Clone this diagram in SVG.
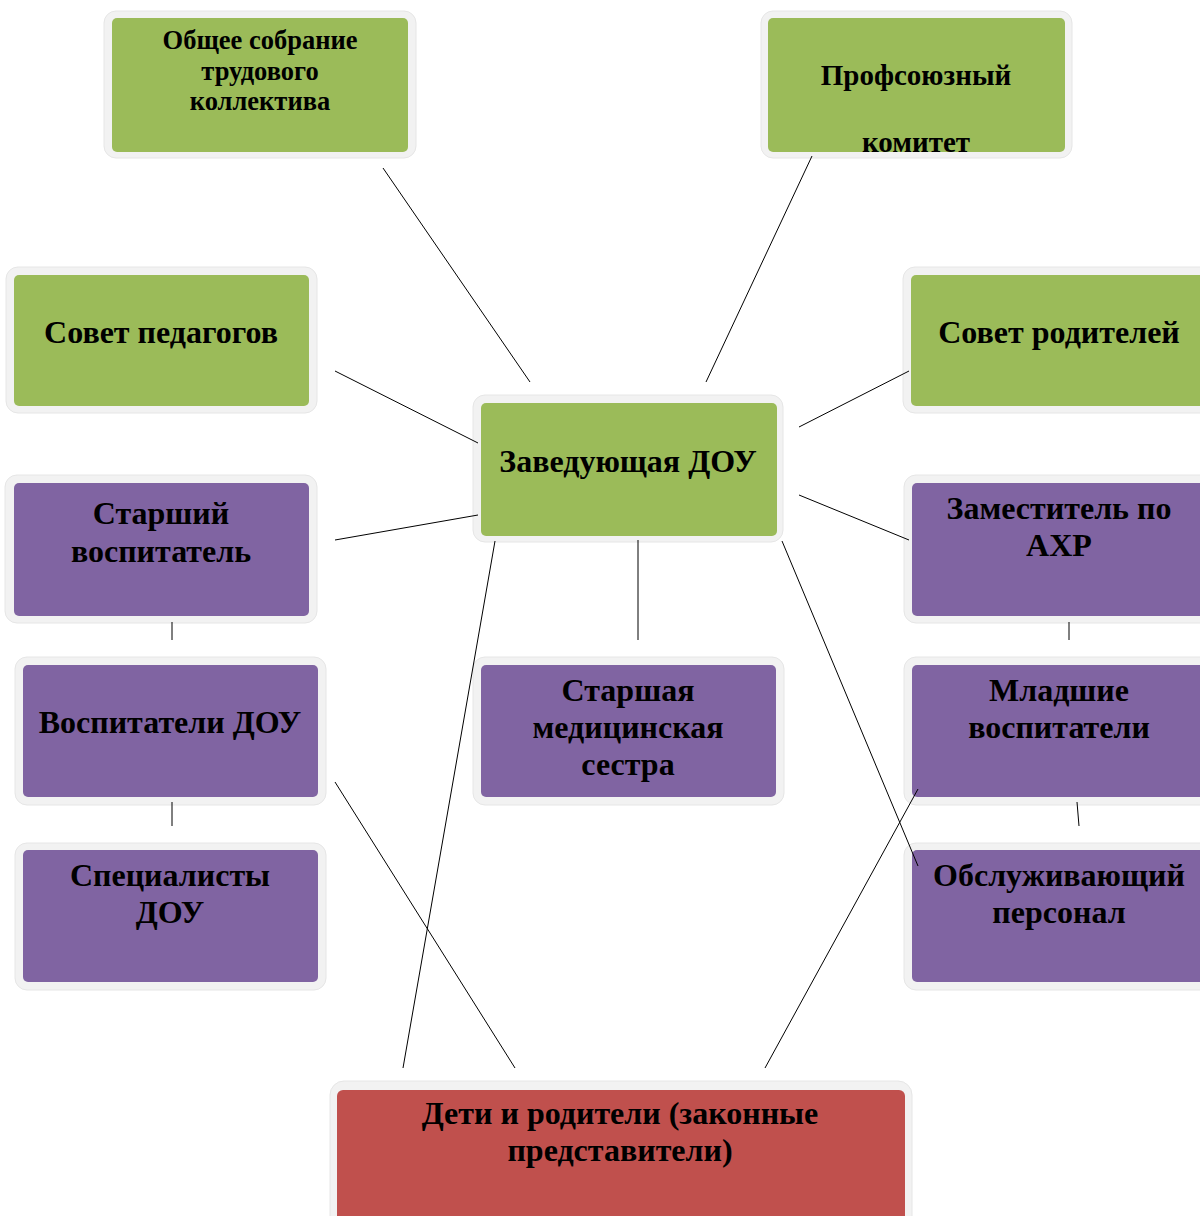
<svg xmlns="http://www.w3.org/2000/svg" width="1200" height="1216" viewBox="0 0 1200 1216">
<style>
.frame{fill:#f2f2f2;stroke:#e6e6e6;stroke-width:1}
.g{fill:#9bbb59}
.p{fill:#8064a2}
.r{fill:#c0504d}
text{font-family:"Liberation Serif","Times New Roman",serif;font-weight:bold;fill:#000;text-anchor:middle}
.t28{font-size:32px}
.t24{font-size:26.5px}
.t26{font-size:29px}
line{stroke:#000;stroke-width:1}
</style>
<rect width="1200" height="1216" fill="#fff"/>
<g id="node-obshchee">
<rect class="frame" x="104" y="11" width="312" height="147" rx="12"/>
<rect class="g" x="112" y="18" width="296" height="134" rx="5"/>
<text class="t24" x="260" y="49">Общее собрание</text>
<text class="t24" x="260" y="80">трудового</text>
<text class="t24" x="260" y="110">коллектива</text>
</g>
<g id="node-profkom">
<rect class="frame" x="761" y="11" width="311" height="147" rx="12"/>
<rect class="g" x="768" y="18" width="297" height="134" rx="5"/>
<text class="t26" x="916" y="85">Профсоюзный</text>
<text class="t26" x="916" y="152">комитет</text>
</g>
<g id="node-sovet-ped">
<rect class="frame" x="6" y="267" width="311" height="146" rx="12"/>
<rect class="g" x="14" y="275" width="295" height="131" rx="5"/>
<text class="t28" x="161" y="343">Совет педагогов</text>
</g>
<g id="node-sovet-rod">
<rect class="frame" x="903" y="267" width="320" height="146" rx="12"/>
<rect class="g" x="911" y="275" width="300" height="131" rx="5"/>
<text class="t28" x="1059" y="343">Совет родителей</text>
</g>
<g id="node-zav">
<rect class="frame" x="473" y="395" width="310" height="147" rx="12"/>
<rect class="g" x="481" y="403" width="296" height="133" rx="5"/>
<text class="t28" x="628" y="472">Заведующая ДОУ</text>
</g>
<g id="node-st-vosp">
<rect class="frame" x="5" y="475" width="312" height="148" rx="12"/>
<rect class="p" x="14" y="483" width="295" height="133" rx="5"/>
<text class="t28" x="161" y="524">Старший</text>
<text class="t28" x="161" y="562">воспитатель</text>
</g>
<g id="node-zam">
<rect class="frame" x="904" y="475" width="320" height="148" rx="12"/>
<rect class="p" x="912" y="483" width="300" height="133" rx="5"/>
<text class="t28" x="1059" y="519">Заместитель по</text>
<text class="t28" x="1059" y="556">АХР</text>
</g>
<g id="node-vosp">
<rect class="frame" x="15" y="657" width="311" height="148" rx="12"/>
<rect class="p" x="23" y="665" width="295" height="132" rx="5"/>
<text class="t28" x="170" y="733">Воспитатели ДОУ</text>
</g>
<g id="node-med">
<rect class="frame" x="473" y="657" width="311" height="148" rx="12"/>
<rect class="p" x="481" y="665" width="295" height="132" rx="5"/>
<text class="t28" x="628" y="701">Старшая</text>
<text class="t28" x="628" y="738">медицинская</text>
<text class="t28" x="628" y="775">сестра</text>
</g>
<g id="node-mladshie">
<rect class="frame" x="904" y="657" width="320" height="148" rx="12"/>
<rect class="p" x="912" y="665" width="300" height="132" rx="5"/>
<text class="t28" x="1059" y="701">Младшие</text>
<text class="t28" x="1059" y="738">воспитатели</text>
</g>
<g id="node-spec">
<rect class="frame" x="15" y="843" width="311" height="147" rx="12"/>
<rect class="p" x="23" y="850" width="295" height="132" rx="5"/>
<text class="t28" x="170" y="886">Специалисты</text>
<text class="t28" x="170" y="923">ДОУ</text>
</g>
<g id="node-obsl">
<rect class="frame" x="904" y="843" width="320" height="147" rx="12"/>
<rect class="p" x="912" y="850" width="300" height="132" rx="5"/>
<text class="t28" x="1059" y="886">Обслуживающий</text>
<text class="t28" x="1059" y="923">персонал</text>
</g>
<g id="node-deti">
<rect class="frame" x="330" y="1081" width="582" height="160" rx="14"/>
<rect class="r" x="337" y="1090" width="568" height="150" rx="6"/>
<text class="t28" x="620" y="1124">Дети и родители (законные</text>
<text class="t28" x="620" y="1161">представители)</text>
</g>
<g id="connectors">
<line x1="383" y1="168" x2="530" y2="382"/>
<line x1="812" y1="156" x2="706" y2="382"/>
<line x1="335" y1="371" x2="478" y2="443"/>
<line x1="909" y1="371" x2="799" y2="427"/>
<line x1="335" y1="540" x2="478" y2="515"/>
<line x1="799" y1="495" x2="909" y2="540"/>
<line x1="638" y1="540" x2="638" y2="640"/>
<line x1="495" y1="541" x2="403" y2="1068"/>
<line x1="782" y1="541" x2="918" y2="866"/>
<line x1="335" y1="782" x2="515" y2="1068"/>
<line x1="918" y1="789" x2="765" y2="1068"/>
<line x1="172" y1="622" x2="172" y2="640"/>
<line x1="172" y1="802" x2="172" y2="826"/>
<line x1="1069" y1="622" x2="1069" y2="640"/>
<line x1="1077" y1="802" x2="1079" y2="826"/>
</g>
</svg>
